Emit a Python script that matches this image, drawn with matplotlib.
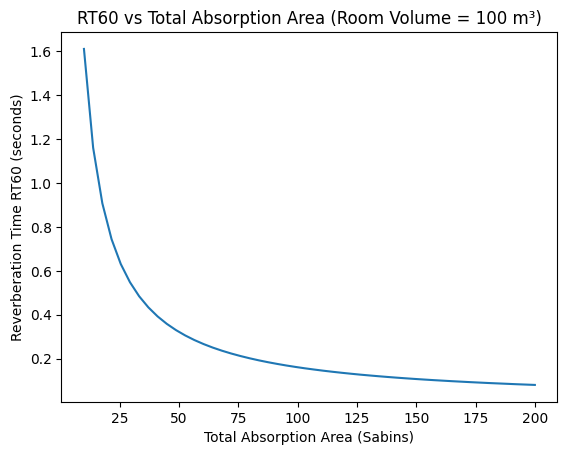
from matplotlib import pyplot as plt

# absorption area (sabins) and RT60
area = [10.0, 13.878, 17.755, 21.633, 25.51, 29.388, 33.265, 37.143, 41.02, 44.898,
        48.776, 52.653, 56.531, 60.408, 64.286, 68.163, 72.041, 75.918, 79.796, 83.673,
        87.551, 91.429, 95.306, 99.184, 103.061, 106.939, 110.816, 114.694, 118.571, 122.449,
        126.327, 130.204, 134.082, 137.959, 141.837, 145.714, 149.592, 153.469, 157.347, 161.224,
        165.102, 168.98, 172.857, 176.735, 180.612, 184.49, 188.367, 192.245, 196.122, 200.0]
rt60 = [1.61, 1.160, 0.907, 0.744, 0.631, 0.548, 0.484, 0.4335, 0.3925, 0.3586,
        0.3301, 0.3058, 0.2848, 0.2665, 0.2504, 0.2362, 0.2235, 0.2121, 0.2018, 0.1924,
        0.1839, 0.1761, 0.1689, 0.1623, 0.1562, 0.1506, 0.1453, 0.1404, 0.1358, 0.1315,
        0.1274, 0.1237, 0.1201, 0.1167, 0.1135, 0.1105, 0.1076, 0.1049, 0.1023, 0.0999,
        0.0975, 0.0953, 0.0931, 0.0911, 0.0891, 0.0873, 0.0855, 0.0837, 0.0821, 0.0805]

fig, ax = plt.subplots(figsize=(6.4, 4.8))
ax.plot(area, rt60)
ax.set_title('RT60 vs Total Absorption Area (Room Volume = 100 m³)')
ax.set_xlabel('Total Absorption Area (Sabins)')
ax.set_ylabel('Reverberation Time RT60 (seconds)')
plt.savefig('out.png', bbox_inches='tight')
